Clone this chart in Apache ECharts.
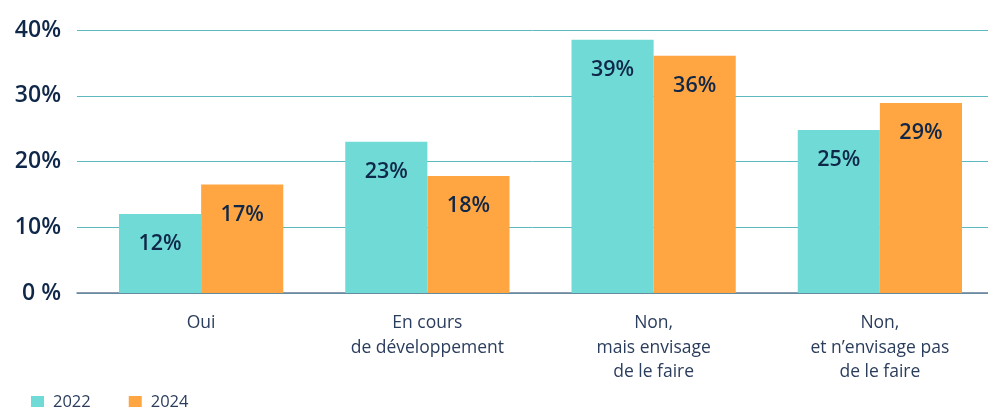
<!DOCTYPE html>
<html>
<head>
<meta charset="utf-8">
<script src="https://cdn.jsdelivr.net/npm/echarts@6/dist/echarts.min.js"></script>
<style>
html,body{margin:0;padding:0;background:#fff;}
#c{width:988px;height:407px;}
</style>
</head>
<body>
<div id="c"></div>
<script>
var categories = ['Oui', 'En cours\nde développement', 'Non,\nmais envisage\nde le faire', 'Non,\net n’envisage pas\nde le faire'];
var seriesNames = ['2022', '2024'];
var values2022 = [12, 23, 38.5, 24.8];
var values2024 = [16.5, 17.8, 36.1, 28.9];
var yTicks = [0, 10, 20, 30, 40];

var FONT = '"Open Sans", "Noto Sans", sans-serif';
var NAVY = '#0f2748';
var chart = echarts.init(document.getElementById('c'), null, {renderer: 'canvas'});

function barSeries(name, data, color) {
  return {
    name: name, type: 'bar', xAxisIndex: 1, yAxisIndex: 1,
    data: data, barGap: '0%', barCategoryGap: '27.4%',
    itemStyle: {color: color},
    label: {
      show: true, position: 'insideTop', distance: 19,
      formatter: function (p) { return Math.round(p.value) + '%'; },
      fontFamily: FONT, fontSize: 21.5, fontWeight: 600, color: NAVY
    }
  };
}

chart.setOption({
  animation: false,
  legend: {
    left: 31, top: 394, padding: 0, itemWidth: 13, itemHeight: 13, itemGap: 38,
    icon: 'rect',
    textStyle: {fontFamily: FONT, fontSize: 16.5, color: '#2b3d5c', padding: [0, 0, 0, 4]},
    data: seriesNames
  },
  grid: [
    {left: 77, width: 911, top: 30, height: 263, outerBoundsMode: 'none', containLabel: false},
    {left: 88, width: 905, top: 30, height: 263, outerBoundsMode: 'none', containLabel: false}
  ],
  xAxis: [
    {gridIndex: 0, type: 'value', min: 0, max: 1, show: true,
     axisLine: {show: true, lineStyle: {color: '#687c95', width: 1.5}},
     axisTick: {show: false}, axisLabel: {show: false}, splitLine: {show: false}},
    {gridIndex: 1, type: 'category', data: categories,
     axisLine: {show: false}, axisTick: {show: false},
     axisLabel: {margin: 18, fontFamily: FONT, fontSize: 17.5, lineHeight: 24.5, color: '#2b3d5c'}}
  ],
  yAxis: [
    {gridIndex: 0, type: 'value', min: yTicks[0], max: yTicks[yTicks.length - 1], interval: 10,
     axisLine: {show: false}, axisTick: {show: false},
     axisLabel: {margin: 16, fontFamily: FONT, fontSize: 23, fontWeight: 600, color: NAVY,
       formatter: function (v) { return v === 0 ? '0 %' : v + '%'; }},
     splitLine: {show: true, lineStyle: {color: '#5cb9be', width: 1}}},
    {gridIndex: 1, type: 'value', min: yTicks[0], max: yTicks[yTicks.length - 1], interval: 10,
     show: false, splitLine: {show: false}}
  ],
  series: [
    barSeries(seriesNames[0], values2022, '#70dbd6'),
    barSeries(seriesNames[1], values2024, '#ffa541')
  ]
});
</script>
</body>
</html>
